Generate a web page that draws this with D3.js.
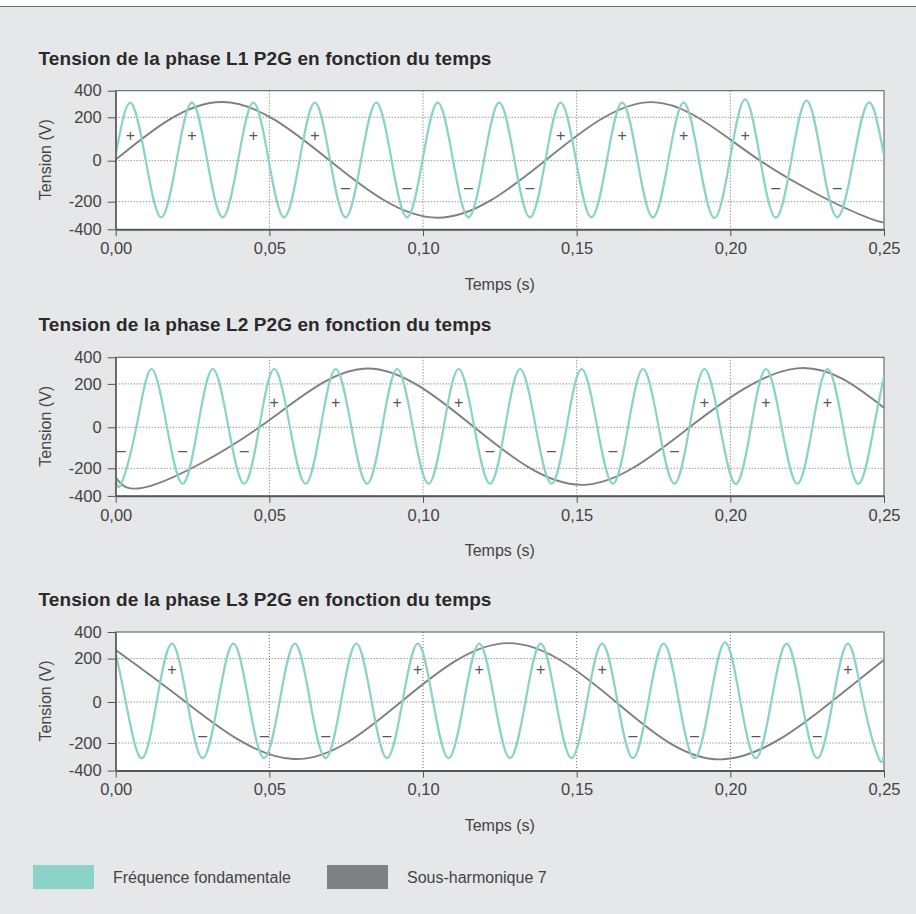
<!DOCTYPE html>
<html><head><meta charset="utf-8">
<script src="https://cdn.jsdelivr.net/npm/d3@7"></script>
<style>
html,body{margin:0;padding:0;background:#e6e7e9;}
svg{display:block;font-family:"Liberation Sans",Arial,sans-serif;}
</style></head>
<body>
<svg id="c" width="916" height="914"></svg>
<script>
// ---------- DATA ----------
const titles = [
  "Tension de la phase L1 P2G en fonction du temps",
  "Tension de la phase L2 P2G en fonction du temps",
  "Tension de la phase L3 P2G en fonction du temps"
];
const xTicks = [0, 0.05, 0.10, 0.15, 0.20, 0.25];
const yTicks = [-400, -200, 0, 200, 400];
const xLabel = "Temps (s)";
const yLabel = "Tension (V)";
const legendLabels = ["Fréquence fondamentale", "Sous-harmonique 7"];

// Fundamental (50 Hz) keypoints [time s, volts] read at peaks / zero crossings
const fundL1 = [[0,25],[0.0048,308],[0.0098,0],[0.0148,-314],[0.0198,0],
  [0.0248,310],[0.0298,0],[0.0348,-314],[0.0398,0],[0.0448,310],[0.0498,0],[0.0548,-314],[0.0598,0],
  [0.0648,310],[0.0698,0],[0.0748,-314],[0.0798,0],[0.0848,310],[0.0898,0],[0.0948,-314],[0.0998,0],
  [0.1048,310],[0.1098,0],[0.1148,-314],[0.1198,0],[0.1248,310],[0.1298,0],[0.1348,-314],[0.1398,0],
  [0.1448,310],[0.1498,0],[0.1548,-314],[0.1598,0],[0.1648,310],[0.1698,0],[0.1748,-314],[0.1798,0],
  [0.1848,310],[0.1898,0],[0.1948,-318],[0.1998,0],[0.2048,335],[0.2098,0],[0.2148,-316],[0.2198,0],
  [0.2248,326],[0.2298,0],[0.2348,-314],[0.2400,0],[0.2451,312],[0.25,22]];
const fundL2 = [[0,-270],[0.0018,-312],[0.0067,0],[0.0116,312],[0.0167,0],
  [0.0218,-312],[0.0267,0],[0.0316,312],[0.0367,0],[0.0418,-312],[0.0467,0],[0.0516,312],[0.0567,0],
  [0.0618,-312],[0.0667,0],[0.0716,312],[0.0767,0],[0.0818,-312],[0.0867,0],[0.0916,312],[0.0967,0],
  [0.1018,-312],[0.1067,0],[0.1116,312],[0.1167,0],[0.1218,-312],[0.1267,0],[0.1316,312],[0.1367,0],
  [0.1418,-312],[0.1467,0],[0.1516,312],[0.1567,0],[0.1618,-312],[0.1667,0],[0.1716,312],[0.1767,0],
  [0.1818,-312],[0.1867,0],[0.1916,312],[0.1967,0],[0.2018,-314],[0.2067,0],[0.2116,312],[0.2167,0],
  [0.2218,-312],[0.2267,0],[0.2316,312],[0.2367,0],[0.2418,-312],[0.2467,0],[0.25,255]];
const fundL3 = [[0,240],[0.0033,0],[0.0083,-310],[0.0133,0],[0.0183,312],[0.0233,0],
  [0.0283,-310],[0.0333,0],[0.0383,312],[0.0433,0],[0.0483,-310],[0.0533,0],[0.0583,312],[0.0633,0],
  [0.0683,-310],[0.0733,0],[0.0783,312],[0.0833,0],[0.0883,-310],[0.0933,0],[0.0983,312],[0.1033,0],
  [0.1083,-310],[0.1133,0],[0.1183,312],[0.1233,0],[0.1283,-310],[0.1333,0],[0.1383,312],[0.1433,0],
  [0.1483,-310],[0.1533,0],[0.1583,312],[0.1633,0],[0.1683,-310],[0.1733,0],[0.1783,312],[0.1833,0],
  [0.1883,-310],[0.1933,0],[0.1983,322],[0.2033,0],[0.2083,-310],[0.2133,0],[0.2183,312],[0.2233,0],
  [0.2283,-310],[0.2333,0],[0.2383,312],[0.2433,0],[0.2483,-310],[0.25,-285]];

// Sub-harmonic 7 (50/7 Hz) keypoints [time s, volts]
const subL1 = [[0,5],[0.0347,315],[0.0697,0],[0.1047,-316],[0.1397,0],[0.1747,314],[0.2097,0],[0.2447,-316],[0.25,-308]];
const subL2 = [[0,-265],[0.0117,-325],[0.0467,0],[0.0817,316],[0.1167,0],[0.1517,-320],[0.1867,0],[0.2217,317],[0.25,90]];
const subL3 = [[0,265],[0.0228,0],[0.0578,-316],[0.0928,0],[0.1278,316],[0.1628,0],[0.1978,-318],[0.2328,0],[0.25,195]];

// Sign markers [time s, volts] : positive => "+", negative => "–"
const marksL1 = [[0.0048,115],[0.0248,115],[0.0448,115],[0.0648,115],[0.0748,-130],[0.0948,-130],[0.1148,-130],[0.1348,-130],
  [0.1448,115],[0.1648,115],[0.1848,115],[0.2048,115],[0.2148,-130],[0.2348,-130]];
const marksL2 = [[0.0018,-111],[0.0218,-111],[0.0418,-111],[0.0516,113],[0.0716,113],[0.0916,113],[0.1116,113],
  [0.1218,-111],[0.1418,-111],[0.1618,-111],[0.1818,-111],[0.1916,113],[0.2116,113],[0.2316,113]];
const marksL3 = [[0.0183,152],[0.0283,-161],[0.0483,-161],[0.0683,-161],[0.0883,-161],[0.0983,152],[0.1183,152],[0.1383,152],[0.1583,152],
  [0.1683,-161],[0.1883,-161],[0.2083,-161],[0.2283,-161],[0.2383,152]];

const panelsFund = [fundL1, fundL2, fundL3];
const panelsSub = [subL1, subL2, subL3];
const panelsMarks = [marksL1, marksL2, marksL3];

// ---------- LAYOUT ----------
const tealC = "#8bd3c8", grayC = "#7f8083", inkC = "#444";
const plotTops = [90.7, 357.3, 632];
const left = 115.7, right = 884;
const svg = d3.select("#c");

svg.append("rect").attr("x",0).attr("y",0).attr("width",916).attr("height",6).attr("fill","#fff");
svg.append("line").attr("x1",0).attr("x2",916).attr("y1",6.5).attr("y2",6.5).attr("stroke","#6d6e70").attr("stroke-width",1);

const x = d3.scaleLinear().domain([0,0.25]).range([left,right]);

plotTops.forEach((top, i) => {
  const y = d3.scaleLinear().domain(yTicks).range([138.6,111,70,26.6,0].map(v => top + v));
  const bottom = top + 138.6;
  const g = svg.append("g");

  g.append("text").attr("x",38.5).attr("y",top-26).attr("font-size",19).attr("font-weight","bold")
    .attr("letter-spacing",0.1).attr("fill","#2a2a2a").text(titles[i]);

  g.append("rect").attr("x",left).attr("y",top).attr("width",right-left).attr("height",bottom-top)
    .attr("fill","#fff").attr("stroke","#555").attr("stroke-width",1);

  // grid
  g.selectAll(".hg").data(yTicks.filter(d => d !== 400 && d !== -400)).join("line")
    .attr("x1",left).attr("x2",right).attr("y1",d=>y(d)).attr("y2",d=>y(d))
    .attr("stroke","#666").attr("stroke-width",1).attr("stroke-dasharray","1,2");
  g.selectAll(".vg").data(xTicks.filter(d => d > 0 && d < 0.25)).join("line")
    .attr("x1",d=>x(d)).attr("x2",d=>x(d)).attr("y1",top).attr("y2",bottom)
    .attr("stroke","#666").attr("stroke-width",1).attr("stroke-dasharray","1,2");

  const line = d3.line().x(d=>x(d[0])).y(d=>y(d[1])).curve(d3.curveNatural);
  const clipId = "clip"+i;
  g.append("clipPath").attr("id",clipId).append("rect")
    .attr("x",left).attr("y",top-4).attr("width",right-left).attr("height",bottom-top+8);
  const lines = g.append("g").attr("clip-path",`url(#${clipId})`);
  lines.append("path").datum(panelsSub[i]).attr("d",line).attr("fill","none")
    .attr("stroke",grayC).attr("stroke-width",1.9);
  lines.append("path").datum(panelsFund[i]).attr("d",line).attr("fill","none")
    .attr("stroke",tealC).attr("stroke-width",2.2);

  g.append("g").attr("opacity",0.99).selectAll("text").data(panelsMarks[i]).join("text")
    .attr("x",d=>x(d[0])).attr("y",d=>y(d[1])).attr("text-anchor","middle")
    .attr("dominant-baseline","central").attr("font-size",16).attr("fill","#555")
    .text(d => d[1] > 0 ? "+" : "–");

  // axes
  const ya = g.append("g").attr("transform",`translate(${left},0)`)
    .call(d3.axisLeft(y).tickValues(yTicks).tickSize(8).tickSizeOuter(0).tickPadding(6).tickFormat(d=>String(d)));
  const xa = g.append("g").attr("transform",`translate(0,${bottom})`)
    .call(d3.axisBottom(x).tickValues(xTicks).tickSize(7).tickSizeOuter(0).tickPadding(6)
      .tickFormat(d => d.toFixed(2).replace(".",",")));
  [ya, xa].forEach(a => {
    a.selectAll("text").attr("font-size",16.5).attr("fill",inkC).attr("font-family","Liberation Sans, Arial, sans-serif");
    a.selectAll("line").attr("stroke","#555");
  });
  ya.select(".domain").attr("stroke","#555").attr("stroke-width",1.2);
  xa.select(".domain").attr("stroke","#555").attr("stroke-width",1.8);

  g.append("text").attr("transform",`translate(51,${top+69}) rotate(-90)`).attr("text-anchor","middle")
    .attr("font-size",16).attr("fill",inkC).text(yLabel);
  g.append("text").attr("x",(left+right)/2).attr("y",top+199).attr("text-anchor","middle")
    .attr("font-size",16).attr("fill",inkC).text(xLabel);
});

// legend
const lg = svg.append("g");
const legendCols = [tealC, grayC];
const legendX = [33, 327];
legendLabels.forEach((lab, i) => {
  lg.append("rect").attr("x",legendX[i]).attr("y",865).attr("width",61).attr("height",24).attr("fill",legendCols[i]);
  lg.append("text").attr("x",legendX[i]+80).attr("y",877).attr("dominant-baseline","central")
    .attr("font-size",16).attr("fill",inkC).text(lab);
});
</script>
</body></html>
